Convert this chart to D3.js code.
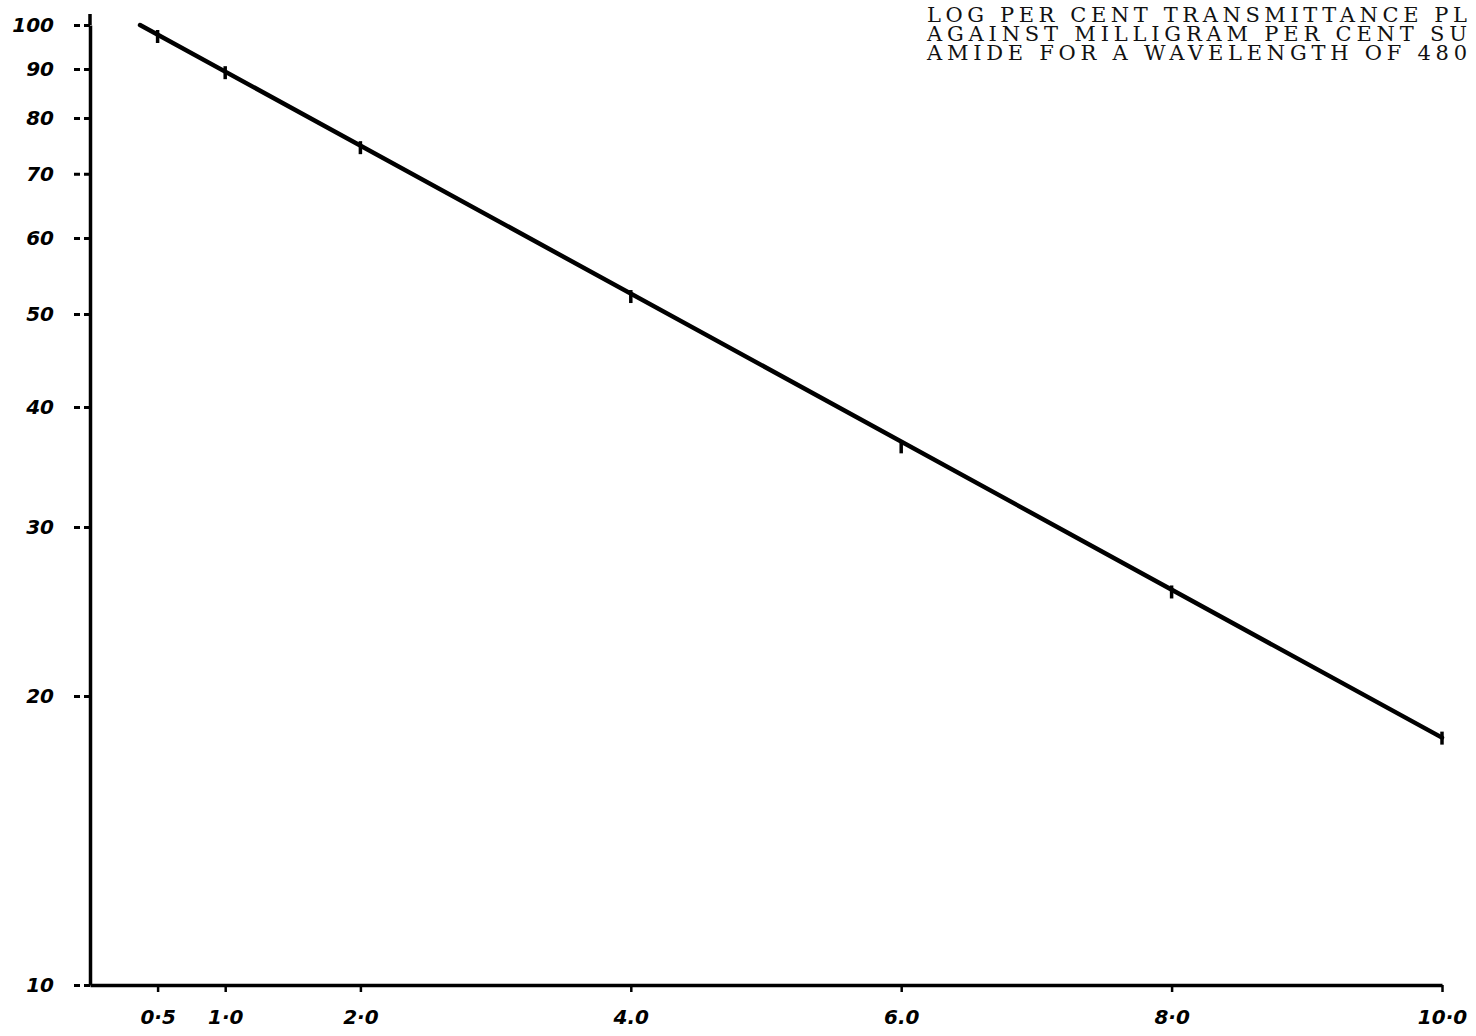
<!DOCTYPE html>
<html>
<head>
<meta charset="utf-8">
<script src="https://cdn.jsdelivr.net/npm/d3@7"></script>
<style>
  body { margin: 0; background: #fff; }
  svg { display: block; }
  .ticklab { font-family: "DejaVu Sans", sans-serif; font-weight: bold; font-style: italic; font-size: 20px; fill: #000; }
  .title { font-family: "DejaVu Serif", "Liberation Serif", serif; font-size: 21px; fill: #111; }
</style>
</head>
<body>
<svg id="chart"></svg>
<script>
// data (mg per cent vs per cent transmittance)
const concentration = [0.5, 1.0, 2.0, 4.0, 6.0, 8.0, 10.0];
const transmittance = [97.4, 89.3, 74.6, 52.2, 36.4, 25.7, 18.1];

// the drawn straight line runs a little past the first point
const lineConc = [0.37, 10.0];
const linePct = [100, 18.1];

const xTicks = [0.5, 1.0, 2.0, 4.0, 6.0, 8.0, 10.0];
const xTickLabels = ["0·5", "1·0", "2·0", "4.0", "6.0", "8·0", "10·0"];
const yTicks = [10, 20, 30, 40, 50, 60, 70, 80, 90, 100];

// typed caption as far as it shows on the sheet
const titleLines = [
  "LOG PER CENT TRANSMITTANCE PL",
  "AGAINST MILLIGRAM PER CENT SU",
  "AMIDE FOR A WAVELENGTH OF 480"
];

const W = 1476, H = 1036;

const svg = d3.select("#chart")
  .attr("width", W)
  .attr("height", H);

let x = d3.scaleLinear()
  .domain([0, 10])
  .range([90, 1442]);

let y = d3.scaleLog()
  .domain([10, 100])
  .range([985, 25]);

// y axis
let yAxis = svg.append("g")
  .attr("transform", "translate(" + x(0) + ",0)")
  .call(d3.axisLeft(y).tickValues(yTicks).tickFormat(d3.format("d")).tickSize(18).tickSizeOuter(0).tickPadding(18));

yAxis.select(".domain")
  .attr("stroke", "#000")
  .attr("stroke-width", 3.5);
yAxis.selectAll(".tick line")
  .attr("stroke", "#000")
  .attr("stroke-width", 3)
  .attr("stroke-dasharray", "6,4");
yAxis.selectAll(".tick text")
  .attr("class", "ticklab");

// extend the y axis line a bit above 100 like the drawing
svg.append("line")
  .attr("x1", x(0)).attr("x2", x(0))
  .attr("y1", y(100)).attr("y2", y(100) - 11)
  .attr("stroke", "#000")
  .attr("stroke-width", 3.5);

// x axis
let xAxis = svg.append("g")
  .attr("transform", "translate(0," + y(10) + ")")
  .call(d3.axisBottom(x).tickValues(xTicks).tickFormat((d, i) => xTickLabels[i]).tickSize(7).tickSizeOuter(0).tickPadding(18));

xAxis.select(".domain")
  .attr("stroke", "#000")
  .attr("stroke-width", 3.5);
xAxis.selectAll(".tick line")
  .attr("stroke", "#000")
  .attr("stroke-width", 2.5);
xAxis.selectAll(".tick text")
  .attr("class", "ticklab");

// plotted straight line
let line = d3.line()
  .x((d) => x(d[0]))
  .y((d) => y(d[1]));

svg.append("path")
  .datum(d3.zip(lineConc, linePct))
  .attr("d", line)
  .attr("fill", "none")
  .attr("stroke", "#000")
  .attr("stroke-width", 4.5)
  .attr("stroke-linecap", "round");

// little vertical marks at the measured points
svg.selectAll(".pt")
  .data(d3.zip(concentration, transmittance))
  .enter().append("line")
  .attr("class", "pt")
  .attr("x1", (d) => x(d[0]))
  .attr("x2", (d) => x(d[0]))
  .attr("y1", (d) => y(d[1]) - 6)
  .attr("y2", (d) => y(d[1]) + 7)
  .attr("stroke", "#000")
  .attr("stroke-width", 3.5);

// typed caption, one text block, spaced out like a typewriter
svg.append("text")
  .attr("class", "title")
  .selectAll("tspan")
  .data(titleLines)
  .enter().append("tspan")
  .attr("x", 927)
  .attr("y", (d, i) => 22 + i * 19)
  .attr("textLength", 540)
  .attr("lengthAdjust", "spacing")
  .text((d) => d);
</script>
</body>
</html>
